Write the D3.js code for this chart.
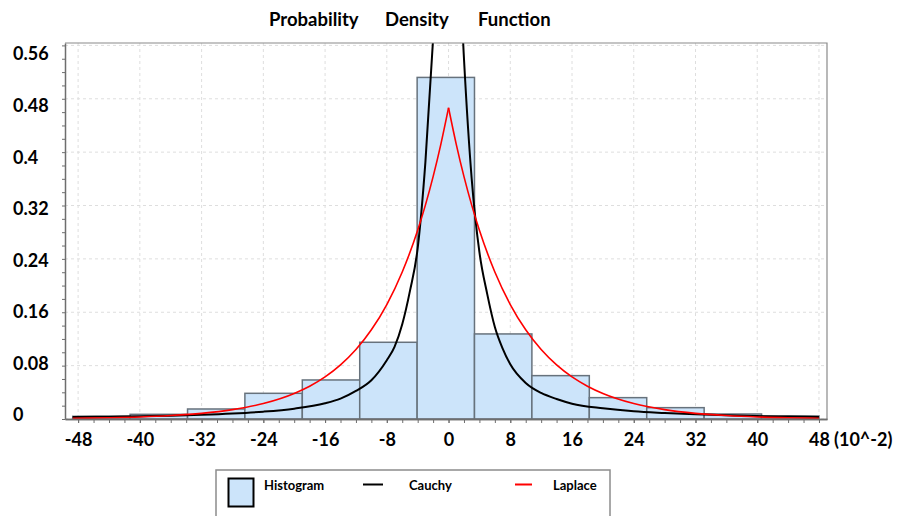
<!DOCTYPE html>
<html>
<head>
<meta charset="utf-8">
<script src="https://cdn.jsdelivr.net/npm/d3@7"></script>
<style>
  body { margin: 0; background: #fff; }
  svg { display: block; font-family: Lato, "Open Sans", sans-serif; font-weight: bold; }
</style>
</head>
<body>
<svg id="chart" width="899" height="516"></svg>
<script>
// Histogram bins (x in units of 10^-2), relative frequency per bin
const binEdges = [-48.7, -41.26, -33.82, -26.39, -18.95, -11.51, -4.07, 3.36, 10.80, 18.24, 25.68, 33.12, 40.56, 48.0];
const binHeights = [0.004, 0.007, 0.015, 0.0385, 0.0585, 0.115, 0.512, 0.1275, 0.065, 0.032, 0.017, 0.0075, 0.0045];

// Fitted Cauchy curve
const cauchyX = [-48.7, -44, -40, -36, -32, -28, -24, -20, -16, -14, -12, -10, -8, -7, -6, -5, -4, -3, -2, -1, 0,
                 1, 2, 3, 4, 5, 6, 7, 8, 10, 12, 14, 16, 20, 24, 28, 32, 36, 40, 44, 48];
const cauchyY = [0.0030, 0.0035, 0.0042, 0.0050, 0.0063, 0.0082, 0.0110, 0.0155, 0.0235, 0.0305, 0.0420, 0.0580, 0.0880, 0.1080, 0.1420, 0.1920, 0.2560, 0.3850, 0.5700, 0.8100, 0.9200,
                 0.7900, 0.5400, 0.3600, 0.2500, 0.1880, 0.1380, 0.1060, 0.0820, 0.0540, 0.0390, 0.0300, 0.0230, 0.0160, 0.0115, 0.0090, 0.0070, 0.0055, 0.0044, 0.0036, 0.0030];

// Fitted Laplace curve
const laplaceX = [-48.7, -44, -40, -36, -32, -28, -24, -20, -18, -16, -14, -12, -10, -8, -6, -4, -3, -2, -1, 0,
                  1, 2, 3, 4, 6, 8, 10, 12, 14, 16, 18, 20, 24, 28, 32, 36, 40, 44, 48];
const laplaceY = [0.0010, 0.0019, 0.0031, 0.0052, 0.0085, 0.0141, 0.0232, 0.0383, 0.0491, 0.0631, 0.0811, 0.1041, 0.1337, 0.1716, 0.2204, 0.2829, 0.3206, 0.3633, 0.4117, 0.4665,
                  0.4117, 0.3633, 0.3206, 0.2829, 0.2204, 0.1716, 0.1337, 0.1041, 0.0811, 0.0631, 0.0492, 0.0383, 0.0232, 0.0141, 0.0085, 0.0052, 0.0031, 0.0019, 0.0012];

const xTickValues = [-48, -40, -32, -24, -16, -8, 0, 8, 16, 24, 32, 40, 48];
const yTickValues = [0, 0.08, 0.16, 0.24, 0.32, 0.4, 0.48, 0.56];
const yTickLabels = ["0", "0.08", "0.16", "0.24", "0.32", "0.4", "0.48", "0.56"];
const titleWords = ["Probability", "Density", "Function"];
const xUnitLabel = "(10^-2)";
const legendLabels = ["Histogram", "Cauchy", "Laplace"];

const svg = d3.select("#chart");
const plot = { left: 65, right: 827, top: 43, bottom: 419 };
const axisColor = "#6e6e6e";

const x = d3.scaleLinear().domain([-49.7, 49.04]).range([plot.left, plot.right]);
const y = d3.scaleLinear().domain([0, 0.5636]).range([plot.bottom, plot.top]);
// value labels on the y axis are spread on their own slightly tighter scale
const yLabelPos = d3.scaleLinear().domain([0, 0.56]).range([415, 54]);

// Title
const title = svg.append("text").attr("y", 26).attr("font-size", 18.5).attr("fill", "#000");
const titleX = [269, 385, 478];
titleWords.forEach((w, i) => title.append("tspan").attr("x", titleX[i]).text(w));

// Dashed grid
const grid = svg.append("g").attr("stroke", "#dedede").attr("stroke-dasharray", "3,3").attr("stroke-width", 1);
grid.selectAll("line.v").data(xTickValues).join("line").attr("class", "v")
  .attr("x1", d => x(d)).attr("x2", d => x(d)).attr("y1", plot.top).attr("y2", plot.bottom);
grid.selectAll("line.h").data(yTickValues).join("line").attr("class", "h")
  .attr("x1", plot.left).attr("x2", plot.right).attr("y1", d => y(d)).attr("y2", d => y(d));

// Histogram bars
svg.append("g").selectAll("rect").data(binHeights).join("rect")
  .attr("x", (d, i) => x(binEdges[i]))
  .attr("width", (d, i) => x(binEdges[i + 1]) - x(binEdges[i]))
  .attr("y", d => y(d))
  .attr("height", d => y(0) - y(d))
  .attr("fill", "#cce4fa")
  .attr("stroke", "#67727c")
  .attr("stroke-width", 1.5);

// Curves, clipped to the plot area
svg.append("defs").append("clipPath").attr("id", "plotClip").append("rect")
  .attr("x", plot.left).attr("y", plot.top)
  .attr("width", plot.right - plot.left).attr("height", plot.bottom - plot.top);

const line = d3.line().x(d => x(d[0])).y(d => y(d[1])).curve(d3.curveMonotoneX);
const curves = svg.append("g").attr("clip-path", "url(#plotClip)").attr("fill", "none");

const cauchyPts = cauchyX.map((v, i) => [v, cauchyY[i]]);
curves.append("path").attr("d", line(cauchyPts)).attr("stroke", "#000").attr("stroke-width", 2);

// Laplace drawn as two monotone halves so the cusp at the peak stays sharp
const laplacePts = laplaceX.map((v, i) => [v, laplaceY[i]]);
const peak = d3.maxIndex(laplaceY);
[laplacePts.slice(0, peak + 1), laplacePts.slice(peak)].forEach(half =>
  curves.append("path").attr("d", line(half)).attr("stroke", "#ff0000").attr("stroke-width", 1.6));

// Plot frame (top and right)
svg.append("path")
  .attr("d", `M${plot.left},${plot.top}H${plot.right}V${plot.bottom}`)
  .attr("fill", "none").attr("stroke", "#8a8a8a").attr("stroke-width", 1.2);

// X axis: minor ticks, then major ticks with labels
const xMinor = svg.append("g").attr("transform", `translate(0,${plot.bottom})`)
  .call(d3.axisBottom(x).tickValues(d3.range(-48, 48.01, 2)).tickSize(4).tickSizeOuter(0).tickFormat(""));
const xMajor = svg.append("g").attr("transform", `translate(0,${plot.bottom})`)
  .call(d3.axisBottom(x).tickValues(xTickValues).tickSize(4).tickSizeOuter(0).tickPadding(10).tickFormat(d3.format("d")));
[xMinor, xMajor].forEach(g => {
  g.select(".domain").attr("stroke", axisColor).attr("stroke-width", 1.5);
  g.selectAll(".tick line").attr("stroke", axisColor);
});
xMajor.selectAll(".tick text")
  .attr("font-family", "Lato, 'Open Sans', sans-serif").attr("font-weight", "bold")
  .attr("font-size", 18).attr("fill", "#000");
xMajor.selectAll(".tick text").text(d => d < 0 ? "-" + Math.abs(d) : String(d));

svg.append("text").attr("x", 834).attr("y", 446).attr("font-size", 18).attr("fill", "#000").text(xUnitLabel);

// Y axis: ticks from the axis, labels placed on their own scale
const yAxisG = svg.append("g").attr("transform", `translate(${plot.left},0)`)
  .call(d3.axisLeft(y).tickValues(d3.range(0, 0.5601, 0.02)).tickSize(3).tickSizeOuter(0).tickFormat(""));
yAxisG.select(".domain").attr("stroke", axisColor).attr("stroke-width", 1.5);
yAxisG.selectAll(".tick line").attr("stroke", axisColor);

svg.append("g").selectAll("text").data(yTickValues).join("text")
  .attr("x", 13).attr("y", d => yLabelPos(d)).attr("dy", "0.36em")
  .attr("font-size", 18).attr("fill", "#000")
  .text((d, i) => yTickLabels[i]);

// Legend
const legend = svg.append("g");
legend.append("rect").attr("x", 216).attr("y", 470).attr("width", 394).attr("height", 60)
  .attr("fill", "#fff").attr("stroke", "#8c8c8c").attr("stroke-width", 1.5);
legend.append("rect").attr("x", 228.5).attr("y", 478.5).attr("width", 25).attr("height", 28)
  .attr("fill", "#cce4fa").attr("stroke", "#000").attr("stroke-width", 2);
legend.append("line").attr("x1", 363).attr("x2", 383).attr("y1", 484.5).attr("y2", 484.5)
  .attr("stroke", "#000").attr("stroke-width", 2);
legend.append("line").attr("x1", 515).attr("x2", 532).attr("y1", 484.5).attr("y2", 484.5)
  .attr("stroke", "#ff0000").attr("stroke-width", 2);
const legendX = [264, 409, 553];
legend.selectAll("text.lbl").data(legendLabels).join("text").attr("class", "lbl")
  .attr("x", (d, i) => legendX[i]).attr("y", 489.5)
  .attr("font-size", 13).attr("fill", "#000").text(d => d);
</script>
</body>
</html>
